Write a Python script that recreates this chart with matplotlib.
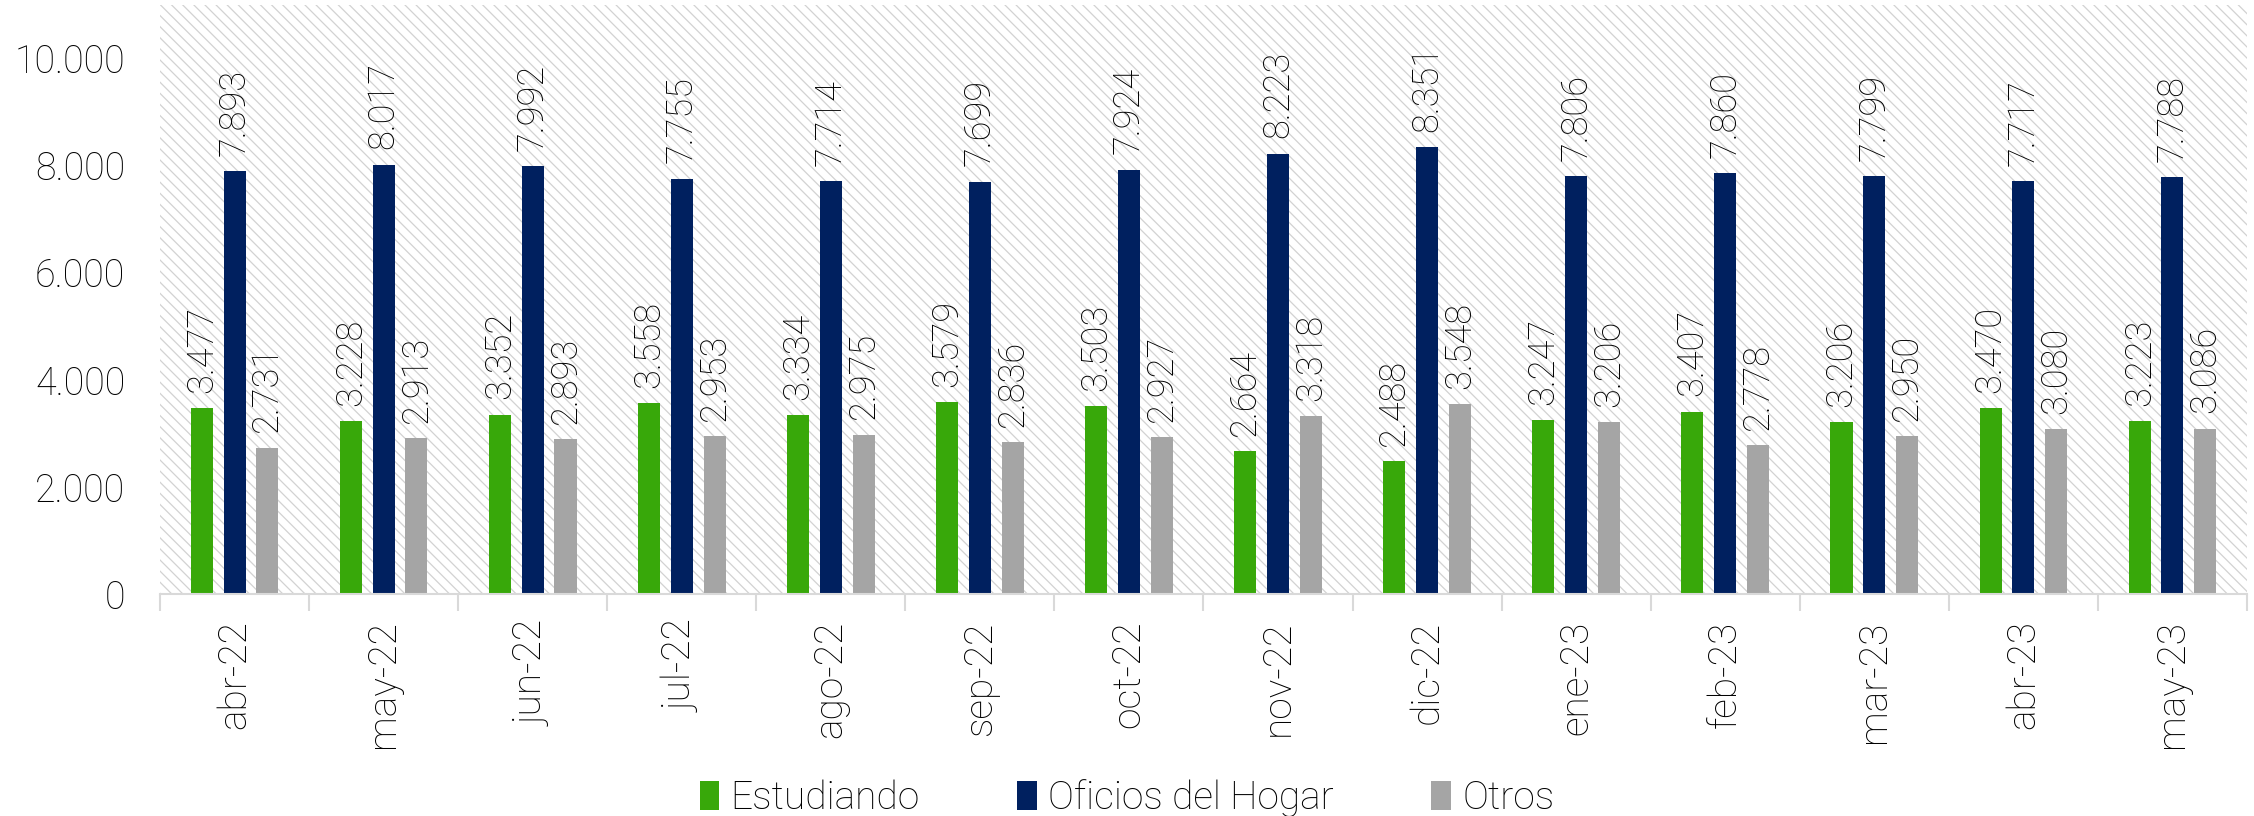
import matplotlib
matplotlib.use("Agg")
import matplotlib.pyplot as plt
import numpy as np
from matplotlib.patches import Rectangle, Patch

months = ["abr-22", "may-22", "jun-22", "jul-22", "ago-22", "sep-22", "oct-22",
          "nov-22", "dic-22", "ene-23", "feb-23", "mar-23", "abr-23", "may-23"]
estudiando = [3477, 3228, 3352, 3558, 3334, 3579, 3503, 2664, 2488, 3247, 3407, 3206, 3470, 3223]
oficios = [7893, 8017, 7992, 7755, 7714, 7699, 7924, 8223, 8351, 7806, 7860, 7799, 7717, 7788]
otros = [2731, 2913, 2893, 2953, 2975, 2836, 2927, 3318, 3548, 3206, 2778, 2950, 3080, 3086]
series_names = ["Estudiando", "Oficios del Hogar", "Otros"]
colors = ["#38A80A", "#00205F", "#A5A5A5"]
yticks = [0, 2000, 4000, 6000, 8000, 10000]

plt.rcParams['font.family'] = ['Roboto', 'DejaVu Sans']
plt.rcParams['hatch.linewidth'] = 0.9
txt = "#000000"
fw = "light"

def fmt(v):
    return f"{v:,}".replace(",", ".")

fig = plt.figure(figsize=(22.54, 8.16), dpi=100)
ax = fig.add_axes([160/2254, 1-594/816, (2247-160)/2254, (594-5)/816])

bg = Rectangle((0, 0), 1, 1, transform=ax.transAxes, facecolor="white",
               edgecolor="#d2d2d2", hatch="\\\\\\", lw=0, zorder=0)
ax.add_patch(bg)
ax.patch.set_visible(False)

x = np.arange(len(months))
w = 0.148
off = 0.22
for i, (vals, c) in enumerate(zip([estudiando, oficios, otros], colors)):
    xs = x + (i - 1) * off
    ax.bar(xs, vals, width=w, color=c, zorder=2, label=series_names[i])
    for xi, v in zip(xs, vals):
        ax.annotate(fmt(v), (xi, v), xytext=(0, 11), textcoords="offset points",
                    rotation=90, ha="center", va="bottom", fontsize=26,
                    color=txt, fontweight=fw, zorder=3)

ax.set_xlim(-0.5, len(months) - 0.5)
ax.set_ylim(0, 11000)
ax.set_yticks(yticks)
ax.set_yticklabels([fmt(t) for t in yticks], fontsize=27, color=txt, fontweight=fw)
ax.set_xticks(x)
ax.set_xticklabels(months, rotation=90, fontsize=28, color=txt, fontweight=fw)
ax.set_xticks(np.arange(-0.5, len(months)), minor=True)
ax.tick_params(axis="x", which="major", length=0, pad=19)
ax.tick_params(axis="x", which="minor", length=12, color="#d9d9d9", width=1.5)
ax.tick_params(axis="y", length=0, pad=25)
for s in ["left", "right", "top"]:
    ax.spines[s].set_visible(False)
ax.spines["bottom"].set_color("#d9d9d9")
ax.spines["bottom"].set_linewidth(1.5)
ax.spines["bottom"].set_zorder(4)

handles = [Patch(facecolor=c, edgecolor="none") for c in colors]
leg = fig.legend(handles, series_names, loc="center", bbox_to_anchor=(1127/2254, 1-798/816),
                 ncol=3, frameon=False, fontsize=28, handlelength=0.5, handleheight=0.8,
                 handletextpad=0.3, columnspacing=2.5)
for t in leg.get_texts():
    t.set_color(txt)
    t.set_fontweight(fw)

fig.savefig("out.png", dpi=100)
